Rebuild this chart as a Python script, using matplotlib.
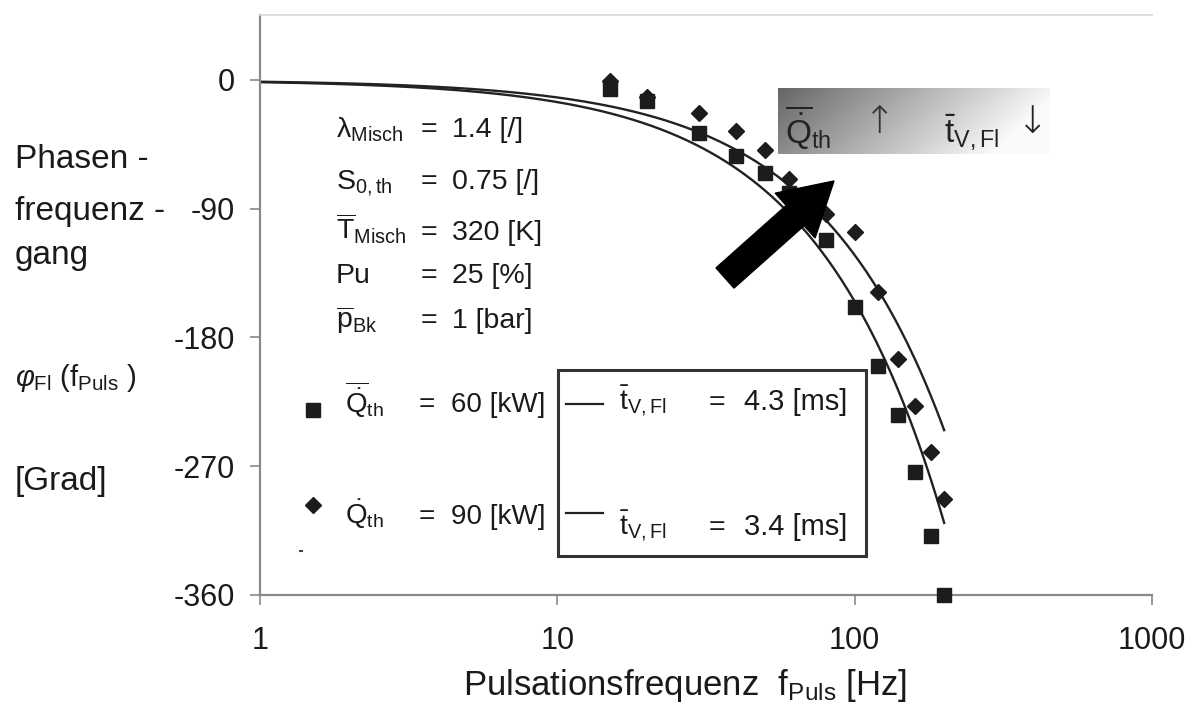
import numpy as np
import matplotlib
matplotlib.use("Agg")
import matplotlib.pyplot as plt
from matplotlib.lines import Line2D
from matplotlib.patches import FancyArrow, Rectangle
from matplotlib.transforms import IdentityTransform
from matplotlib.ticker import FixedLocator, FuncFormatter, NullLocator

plt.rcParams["font.family"] = ["Liberation Sans", "DejaVu Sans"]
plt.rcParams["mathtext.fontset"] = "custom"
plt.rcParams["mathtext.rm"] = "Liberation Sans"
plt.rcParams["mathtext.it"] = "Liberation Sans:italic"
plt.rcParams["mathtext.bf"] = "Liberation Sans:bold"

# measured phase response, Grad
freq_hz = [15, 20, 30, 40, 50, 60, 80, 100, 120, 140, 160, 180, 200]
phase_60kw = [-6, -15, -37, -53, -65, -79, -112, -159, -200, -234, -274, -319, -360]
phase_90kw = [-1, -12, -23, -36, -49, -69, -94, -106, -148, -195, -228, -260, -293]

# dead-time model: phi = -360 * f * t_V
delay_ms = [4.3, 3.4]
model_f_range = (1, 200)

x_ticks = [1, 10, 100, 1000]
y_ticks = [0, -90, -180, -270, -360]

W, H = 1192, 706
fig = plt.figure(figsize=(W / 100, H / 100), dpi=100)
ax = fig.add_axes([260 / W, 1 - 595 / H, (1152 - 260) / W, (595 - 15) / H])

ax.set_xscale("log")
ax.set_xlim(1, 1000)
ax.set_ylim(-360, 45.4)

ink = "#1c1c1c"
f_model = np.logspace(np.log10(model_f_range[0]), np.log10(model_f_range[1]), 300)
for t in delay_ms:
    ax.plot(f_model, -360.0 * f_model * t / 1000.0, color="#222222", lw=1.7, zorder=2)

ax.plot(freq_hz, phase_60kw, ls="none", marker="s", ms=10.5, color=ink,
        mec=ink, zorder=3, clip_on=False)
ax.plot(freq_hz, phase_90kw, ls="none", marker="D", ms=8.2, color=ink,
        mec=ink, zorder=3, clip_on=False)

ax.spines["right"].set_visible(False)
ax.spines["top"].set_color("#d8d8d8")
ax.spines["top"].set_linewidth(1.2)
for side in ("left", "bottom"):
    ax.spines[side].set_color("#8a8a8a")
    ax.spines[side].set_linewidth(1.6)

ax.xaxis.set_major_locator(FixedLocator(x_ticks))
ax.xaxis.set_minor_locator(NullLocator())
ax.xaxis.set_major_formatter(FuncFormatter(lambda v, p: f"{v:g}"))
ax.yaxis.set_major_locator(FixedLocator(y_ticks))
ax.yaxis.set_major_formatter(FuncFormatter(lambda v, p: f"{int(v)}"))
ax.tick_params(axis="x", direction="out", length=7, width=1.2, color="#8a8a8a",
               labelsize=22, pad=15, labelcolor="#1a1a1a")
ax.tick_params(axis="y", direction="out", length=7, width=1.2, color="#8a8a8a",
               labelsize=22, pad=11, labelcolor="#1a1a1a")
ax.set_facecolor("none")


def ftext(x, y, s, **kw):
    kw.setdefault("va", "baseline")
    kw.setdefault("ha", "left")
    kw.setdefault("color", "#1a1a1a")
    return fig.text(x / W, 1 - y / H, s, **kw)


# axis titles
ftext(15, 168, "Phasen -", fontsize=24)
ftext(15, 220, "frequenz -", fontsize=24)
ftext(15, 264, "gang", fontsize=24)
ftext(15, 386, r"$\varphi_{\mathrm{Fl}}$ (f$_{\mathrm{Puls}}$ )", fontsize=21)
ftext(15, 490, "[Grad]", fontsize=24)
ftext(685, 695, r"Pulsationsfrequenz  f$_{\mathrm{Puls}}$ [Hz]", fontsize=25, ha="center")

# operating point
params = [
    ("\u03bb$_{\\mathrm{Misch}}$", "1.4 [/]"),
    (r"$\mathrm{S}_{\mathrm{0,th}}$", "0.75 [/]"),
    (r"$\overline{\mathrm{T}}_{\mathrm{Misch}}$", "320 [K]"),
    (r"Pu", "25 [%]"),
    (r"$\overline{\mathrm{p}}_{\mathrm{Bk}}$", "1 [bar]"),
]
rows_y = [137, 189, 240, 283, 328]
for (lab, val), y in zip(params, rows_y):
    ftext(336, y, lab, fontsize=20.5)
    ftext(421, y, "=", fontsize=20.5)
    ftext(452, y, val, fontsize=20.5)

# series key
series_key = [(410, "s", 10.5, r"$\overline{\dot{\mathrm{Q}}}_{\mathrm{th}}$", "60 [kW]", 412),
              (505, "D", 8.2, r"$\dot{\mathrm{Q}}_{\mathrm{th}}$", "90 [kW]", 524)]
for my, mk, ms, lab, val, ty in series_key:
    fig.add_artist(Line2D([313 / W], [1 - my / H], marker=mk, ms=ms, color=ink,
                          ls="none", transform=fig.transFigure))
    ftext(345, ty, lab, fontsize=20)
    ftext(419, ty, "=", fontsize=20)
    ftext(451, ty, val, fontsize=20)

fig.add_artist(Line2D([300 / W, 302 / W], [1 - 551 / H, 1 - 551 / H], color="#444444",
                      lw=1.5, transform=fig.transFigure))

# model key box
fig.add_artist(Rectangle((558 / W, 1 - 556 / H), (866 - 558) / W, (556 - 370) / H,
                         fill=False, ec="#333333", lw=2.2, transform=fig.transFigure))
for ly, ty, t in [(404, 410, delay_ms[0]), (513, 535, delay_ms[1])]:
    fig.add_artist(Line2D([566 / W, 603 / W], [1 - ly / H, 1 - ly / H], color="#222222",
                          lw=1.6, transform=fig.transFigure))
    ftext(619, ty, r"$\bar{\mathrm{t}}_{\mathrm{V,Fl}}$", fontsize=20.5)
    ftext(709, ty, "=", fontsize=20.5)
    ftext(744, ty, f"{t:.1f} [ms]", fontsize=21)

# trend banner with gradient
ax_g = fig.add_axes([778 / W, 1 - 154 / H, (1050 - 778) / W, (154 - 88) / H])
u = np.linspace(0, 1, 300)[None, :]
v = np.linspace(0, 1, 60)[:, None]
shade = 0.40 + 0.58 * np.clip(0.95 * u + 0.25 * v, 0, 1)
ax_g.imshow(shade, cmap="gray", vmin=0, vmax=1, aspect="auto", interpolation="bilinear")
ax_g.set_axis_off()
ftext(785, 143, r"$\overline{\dot{\mathrm{Q}}}_{\mathrm{th}}$", fontsize=24, color="#222222")
ftext(864, 133, "\u2191", fontsize=27, color="#333333", family="DejaVu Sans",
      fontweight="light")
ftext(944, 143, r"$\bar{\mathrm{t}}_{\mathrm{V,Fl}}$", fontsize=24, color="#222222")
ftext(1017, 133, "\u2193", fontsize=27, color="#222222", family="DejaVu Sans",
      fontweight="light")

# trend arrow
arrow = FancyArrow(725, H - 278, 109, 97, width=27, head_width=60, head_length=52,
                   length_includes_head=True, transform=IdentityTransform(),
                   color="black", zorder=5)
fig.add_artist(arrow)

fig.savefig("out.png", dpi=100, facecolor="white")
